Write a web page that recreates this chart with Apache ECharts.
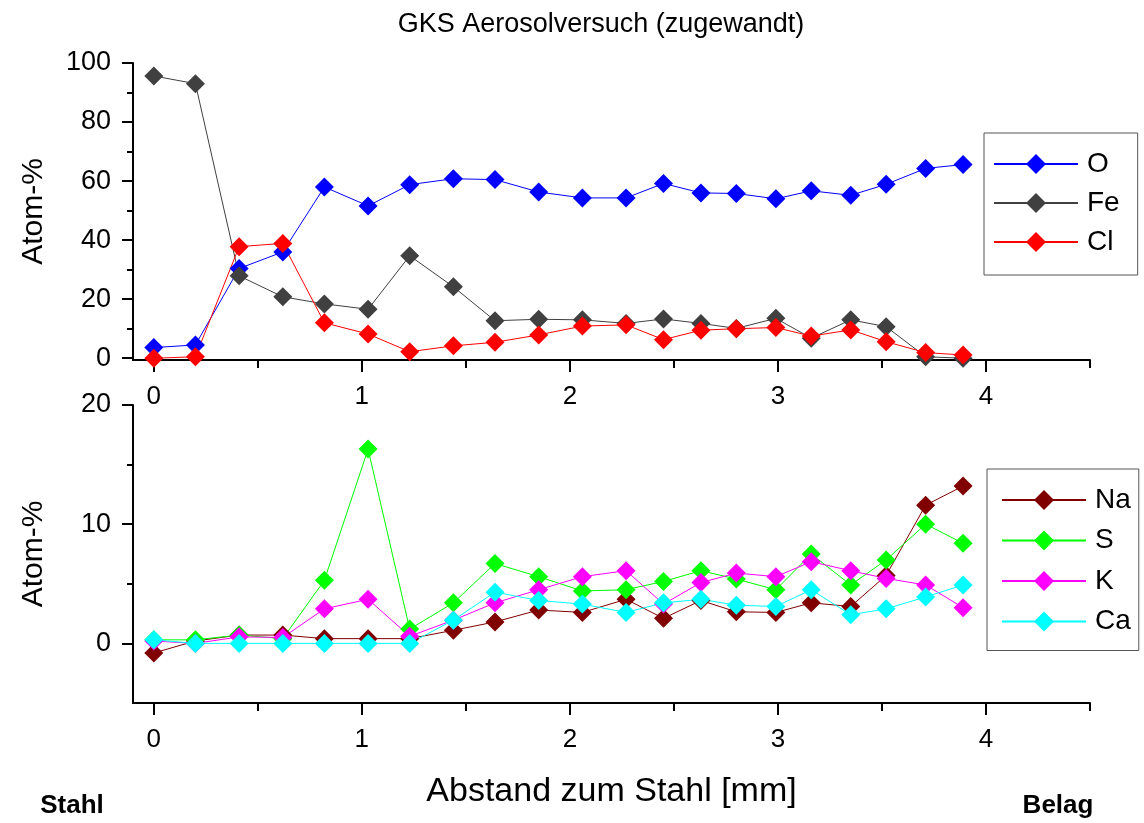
<!DOCTYPE html>
<html>
<head>
<meta charset="utf-8">
<script src="https://cdn.jsdelivr.net/npm/echarts@6/dist/echarts.min.js"></script>
<style>html,body{margin:0;padding:0;background:#fff}#c{width:1144px;height:823px}</style>
</head>
<body>
<div id="c"></div>
<script>
// Distance from steel [mm]
const xPos = [0, 0.2, 0.41, 0.62, 0.82, 1.03, 1.23, 1.44, 1.64, 1.85, 2.06, 2.27, 2.45, 2.63, 2.80, 2.99, 3.16, 3.35, 3.52, 3.71, 3.89];
// Upper panel (Atom-%)
const O  = [3.6, 4.5, 30.4, 36.0, 58.0, 51.6, 58.8, 60.8, 60.5, 56.3, 54.3, 54.3, 59.2, 56.0, 55.8, 54.0, 56.7, 55.2, 58.9, 64.3, 65.6];
const Fe = [95.6, 93.0, 27.9, 20.8, 18.4, 16.6, 34.7, 24.2, 12.7, 13.2, 13.0, 11.8, 13.3, 11.8, 10.1, 13.5, 6.8, 13.0, 10.7, 0.5, 0];
const Cl = [0, 0.5, 37.8, 38.9, 12.0, 8.2, 2.2, 4.2, 5.4, 7.9, 10.9, 11.3, 6.3, 9.5, 10.0, 10.4, 7.5, 9.6, 5.6, 1.9, 1.1];
// Lower panel (Atom-%)
const Na = [-0.8, 0.2, 0.7, 0.7, 0.4, 0.4, 0.4, 1.1, 1.8, 2.8, 2.6, 3.7, 2.1, 3.6, 2.65, 2.6, 3.4, 3.1, 5.7, 11.6, 13.2];
const S  = [0.3, 0.3, 0.7, 0.4, 5.3, 16.3, 1.2, 3.4, 6.7, 5.6, 4.4, 4.5, 5.2, 6.1, 5.4, 4.5, 7.5, 4.9, 7.0, 10.0, 8.4];
const K  = [0.2, 0.0, 0.55, 0.5, 2.9, 3.7, 0.6, 1.95, 3.4, 4.5, 5.6, 6.1, 3.3, 5.1, 5.9, 5.6, 6.85, 6.1, 5.45, 4.9, 3.0];
const Ca = [0.3, 0.0, 0.0, 0.0, 0.0, 0.0, 0.0, 1.95, 4.3, 3.6, 3.3, 2.6, 3.4, 3.7, 3.2, 3.1, 4.5, 2.4, 2.9, 3.9, 4.9];

const xMajor = [0, 1, 2, 3, 4];
const xMinor = [0.5, 1.5, 2.5, 3.5, 4.5];
const yTopMajor = [0, 20, 40, 60, 80, 100];
const yTopMinor = [10, 30, 50, 70, 90];
const yBotMajor = [0, 10, 20];
const yBotMinor = [5, 15];

const titleText = 'GKS Aerosolversuch (zugewandt)';
const yName = 'Atom-%';
const xName = 'Abstand zum Stahl [mm]';

const FONT = 'Liberation Sans';
const pairs = v => xPos.map((x, i) => [x, v[i]]);

function xAxes(grid, withName) {
  const base = {gridIndex: grid, type: 'value', min: -0.1, max: 4.5, position: 'bottom',
    splitLine: {show: false}};
  return [
    Object.assign({}, base, {
      axisLine: {show: true, onZero: false, lineStyle: {color: '#000', width: 2}},
      axisTick: {show: true, customValues: xMajor, length: 12, lineStyle: {color: '#000', width: 2}},
      axisLabel: {show: true, customValues: xMajor, margin: 24, fontSize: 26, color: '#000', fontFamily: FONT},
      name: withName ? xName : '', nameLocation: 'middle', nameGap: 72,
      nameTextStyle: {fontSize: 34, color: '#000', fontFamily: FONT}
    }),
    Object.assign({}, base, {
      axisLine: {show: false, onZero: false},
      axisTick: {show: true, customValues: xMinor, length: 8, lineStyle: {color: '#000', width: 2}},
      axisLabel: {show: false}
    })
  ];
}
function yAxes(grid, min, max, major, minor) {
  const base = {gridIndex: grid, type: 'value', min: min, max: max, position: 'left',
    splitLine: {show: false}};
  return [
    Object.assign({}, base, {
      axisLine: {show: true, onZero: false, lineStyle: {color: '#000', width: 2}},
      axisTick: {show: true, customValues: major, length: 11, lineStyle: {color: '#000', width: 2}},
      axisLabel: {show: true, customValues: major, margin: 22, fontSize: 27, color: '#000', fontFamily: FONT},
      name: yName, nameLocation: 'middle', nameGap: 84, nameRotate: 90,
      nameTextStyle: {fontSize: 30, color: '#000', fontFamily: FONT}
    }),
    Object.assign({}, base, {
      axisLine: {show: false, onZero: false},
      axisTick: {show: true, customValues: minor, length: 6, lineStyle: {color: '#000', width: 2}},
      axisLabel: {show: false}
    })
  ];
}
function ser(name, data, color, xi, yi) {
  return {name: name, type: 'line', xAxisIndex: xi, yAxisIndex: yi, data: pairs(data),
    symbol: 'diamond', symbolSize: 19, color: color,
    lineStyle: {width: 1, color: color}, itemStyle: {color: color}, emphasis: {disabled: true}};
}

const chart = echarts.init(document.getElementById('c'), null, {renderer: 'canvas'});
chart.setOption({
  animation: false,
  backgroundColor: '#fff',
  textStyle: {fontFamily: FONT},
  grid: [
    {left: 133, top: 63, width: 957, height: 297},
    {left: 133, top: 405, width: 957, height: 298}
  ],
  xAxis: [].concat(xAxes(0, false), xAxes(1, true)),
  yAxis: [].concat(yAxes(0, -0.6, 100, yTopMajor, yTopMinor), yAxes(1, -5, 20, yBotMajor, yBotMinor)),
  legend: [
    {data: ['O', 'Fe', 'Cl'], orient: 'vertical', left: 984, top: 133, itemWidth: 84, itemHeight: 25, itemGap: 11,
     padding: [17, 18, 19, 9], borderColor: '#555', borderWidth: 1, backgroundColor: '#fff', selectedMode: false,
     textStyle: {fontSize: 28, color: '#000', fontFamily: FONT, padding: [0, 0, 0, 4], lineHeight: 25}},
    {data: ['Na', 'S', 'K', 'Ca'], orient: 'vertical', left: 987, top: 469, itemWidth: 84, itemHeight: 25, itemGap: 12.5,
     padding: [17, 8, 15, 14], borderColor: '#555', borderWidth: 1, backgroundColor: '#fff', selectedMode: false,
     textStyle: {fontSize: 28, color: '#000', fontFamily: FONT, padding: [0, 0, 0, 4], lineHeight: 25}}
  ],
  graphic: [
    {type: 'text', x: 601, y: 25, style: {text: titleText, fontSize: 27, fontFamily: FONT, fill: '#000', align: 'center', verticalAlign: 'middle'}},
    {type: 'text', x: 72, y: 806, style: {text: 'Stahl', fontSize: 26, fontWeight: 'bold', fontFamily: FONT, fill: '#000', align: 'center', verticalAlign: 'middle'}},
    {type: 'text', x: 1058, y: 806, style: {text: 'Belag', fontSize: 26, fontWeight: 'bold', fontFamily: FONT, fill: '#000', align: 'center', verticalAlign: 'middle'}}
  ],
  series: [
    ser('O', O, '#0000ff', 0, 0),
    ser('Fe', Fe, '#404040', 0, 0),
    ser('Cl', Cl, '#ff0000', 0, 0),
    ser('Na', Na, '#800000', 2, 2),
    ser('S', S, '#00ff00', 2, 2),
    ser('K', K, '#ff00ff', 2, 2),
    ser('Ca', Ca, '#00ffff', 2, 2)
  ]
});
</script>
</body>
</html>
